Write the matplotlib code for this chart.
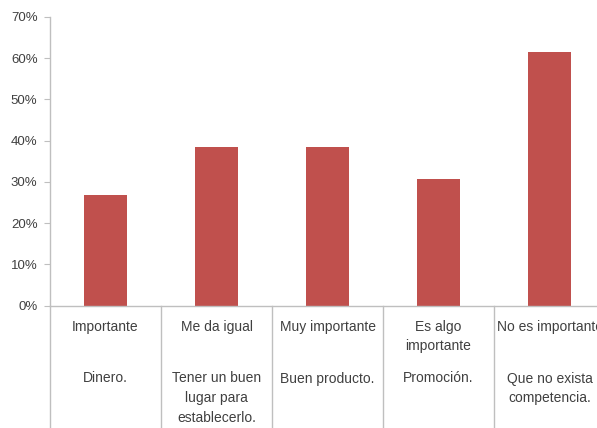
import matplotlib
matplotlib.use('Agg')
import matplotlib.pyplot as plt
from matplotlib.ticker import PercentFormatter

# Data
categories = ['Importante', 'Me da igual', 'Muy importante', 'Es algo\nimportante', 'No es importante']
factors = ['Dinero.', 'Tener un buen\nlugar para\nestablecerlo.', 'Buen producto.', 'Promoción.',
           'Que no exista\ncompetencia.']
values = [0.269, 0.385, 0.385, 0.308, 0.615]
y_ticks = [0, 0.1, 0.2, 0.3, 0.4, 0.5, 0.6, 0.7]

plt.rcParams['font.family'] = ['Liberation Sans', 'DejaVu Sans']

bar_color = '#C0504D'
line_color = '#BFBFBF'
text_color = '#404040'

W, H = 597, 428
fig = plt.figure(figsize=(W / 100, H / 100), dpi=100)
# axes runs past the right edge, like the cropped original
ax = fig.add_axes([50 / W, (H - 305.5) / H, 555 / W, 288.5 / H])

x = list(range(len(values)))
ax.bar(x, values, width=0.39, color=bar_color)

ax.set_xlim(-0.5, len(values) - 0.5)
ax.set_ylim(0, 0.7)
ax.set_yticks(y_ticks)
ax.yaxis.set_major_formatter(PercentFormatter(1.0, decimals=0))
ax.tick_params(axis='y', direction='out', length=4, color=line_color,
               labelsize=9.5, labelcolor=text_color, pad=5)
ax.tick_params(axis='x', length=0, labelbottom=False)

for side in ['top', 'right']:
    ax.spines[side].set_visible(False)
for side in ['left', 'bottom']:
    ax.spines[side].set_color(line_color)
    ax.spines[side].set_linewidth(1.0)

# multi-level category axis below the bars
trans = ax.get_xaxis_transform()
bottom = -(H - 305.5) / 288.5
for b in range(len(values) + 1):
    ax.plot([b - 0.5, b - 0.5], [0, bottom], color=line_color, lw=1.0,
            transform=trans, clip_on=False)

for i, (cat, fac) in enumerate(zip(categories, factors)):
    ax.text(i, -14 / 288.5, cat, transform=trans, ha='center', va='top',
            fontsize=10, color=text_color, linespacing=1.5)
    ax.text(i, -66 / 288.5, fac, transform=trans, ha='center', va='top',
            fontsize=10, color=text_color, linespacing=1.5)

fig.savefig('out.png', dpi=100)
